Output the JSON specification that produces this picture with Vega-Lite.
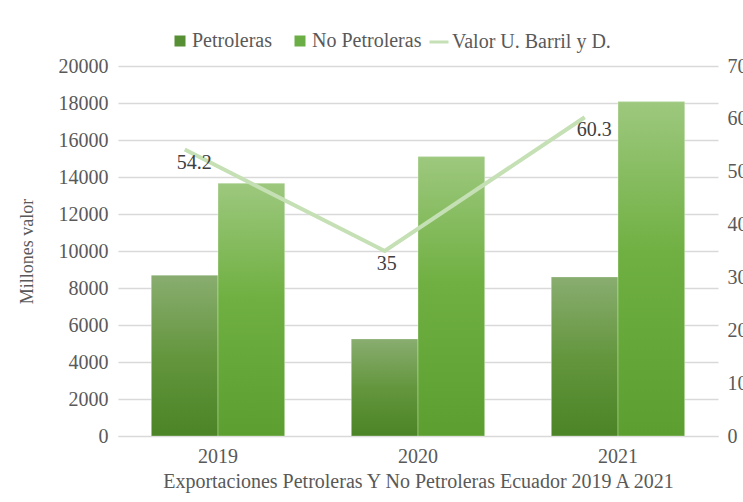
{
  "$schema": "https://vega.github.io/schema/vega-lite/v6.json",
  "width": 600,
  "height": 370,
  "autosize": "none",
  "padding": {"left": 118, "top": 66, "right": 25, "bottom": 66},
  "background": "white",
  "config": {
    "font": "Liberation Serif",
    "view": {"stroke": null},
    "axis": {"labelFont": "Liberation Serif", "titleFont": "Liberation Serif", "labelColor": "#595959", "titleColor": "#595959", "titleFontWeight": "normal"},
    "legend": {"labelFont": "Liberation Serif, serif"},
    "text": {"font": "Liberation Serif, serif"}
  },
  "datasets": {
    "bars": [
      {"anio": "2019", "tipo": "Petroleras", "valor": 8680},
      {"anio": "2019", "tipo": "No Petroleras", "valor": 13650},
      {"anio": "2020", "tipo": "Petroleras", "valor": 5250},
      {"anio": "2020", "tipo": "No Petroleras", "valor": 15100},
      {"anio": "2021", "tipo": "Petroleras", "valor": 8600},
      {"anio": "2021", "tipo": "No Petroleras", "valor": 18070}
    ],
    "precio": [
      {"anio": "2019", "precio": 54.2},
      {"anio": "2020", "precio": 35},
      {"anio": "2021", "precio": 60.3}
    ]
  },
  "encoding": {
    "x": {
      "field": "anio", "type": "nominal",
      "scale": {"paddingInner": 0.335, "paddingOuter": 0.1675},
      "axis": {
        "labelAngle": 0, "labelFontSize": 20, "labelPadding": 10, "ticks": false,
        "domainColor": "#d9d9d9", "domainWidth": 1,
        "title": "Exportaciones Petroleras Y No Petroleras Ecuador 2019 A 2021",
        "titleFontSize": 20, "titlePadding": 5
      }
    }
  },
  "layer": [
    {
      "data": {"name": "bars"},
      "encoding": {
        "xOffset": {"field": "tipo", "type": "nominal", "scale": {"domain": ["Petroleras", "No Petroleras"]}},
        "y": {
          "field": "valor", "type": "quantitative",
          "scale": {"domain": [0, 20000]},
          "axis": {
            "values": [0, 2000, 4000, 6000, 8000, 10000, 12000, 14000, 16000, 18000, 20000],
            "format": "d", "labelFontSize": 20, "labelPadding": 10, "ticks": false, "domain": false,
            "gridColor": "#d9d9d9", "gridWidth": 1.3,
            "title": "Millones valor", "titleFontSize": 18, "titlePadding": 22
          }
        }
      },
      "layer": [
        {
          "mark": {"type": "bar"},
          "encoding": {
            "color": {
              "field": "tipo", "type": "nominal",
              "scale": {"domain": ["Petroleras", "No Petroleras"], "range": ["#578f35", "#6aae45"]},
              "legend": {
                "orient": "none", "legendX": 52, "legendY": -35, "direction": "horizontal",
                "title": null, "symbolType": "square", "symbolSize": 121, "symbolStrokeWidth": 0,
                "labelFont": "Liberation Serif, serif", "labelFontSize": 20, "labelColor": "#595959", "labelOffset": 2, "columnPadding": 18
              }
            }
          }
        },
        {
          "transform": [{"filter": "datum.tipo === 'Petroleras'"}],
          "mark": {"type": "bar", "stroke": "#ffffff", "strokeOpacity": 0.3, "strokeWidth": 1,
            "fill": {"gradient": "linear", "x1": 0, "y1": 0, "x2": 0, "y2": 1, "stops": [
              {"offset": 0, "color": "#89ad70"},
              {"offset": 0.5, "color": "#64963e"},
              {"offset": 1, "color": "#4b8426"}
            ]}}
        },
        {
          "transform": [{"filter": "datum.tipo === 'No Petroleras'"}],
          "mark": {"type": "bar", "stroke": "#ffffff", "strokeOpacity": 0.3, "strokeWidth": 1,
            "fill": {"gradient": "linear", "x1": 0, "y1": 0, "x2": 0, "y2": 1, "stops": [
              {"offset": 0, "color": "#9dc87e"},
              {"offset": 0.45, "color": "#70b042"},
              {"offset": 1, "color": "#5c9e30"}
            ]}}
        }
      ]
    },
    {
      "data": {"name": "precio"},
      "encoding": {
        "xOffset": {"datum": "Petroleras"},
        "y": {
          "field": "precio", "type": "quantitative",
          "scale": {"domain": [0, 70]},
          "axis": {
            "orient": "right", "values": [0, 10, 20, 30, 40, 50, 60, 70],
            "labelFontSize": 20, "labelPadding": 9, "ticks": false, "domain": false, "grid": false, "title": null
          }
        }
      },
      "layer": [
        {
          "mark": {"type": "line", "strokeWidth": 4, "strokeCap": "butt"},
          "encoding": {
            "stroke": {
              "datum": "Valor U. Barril y D.",
              "scale": {"range": ["#c5e0b4"]},
              "legend": {
                "orient": "none", "legendX": 310, "legendY": -35, "direction": "horizontal",
                "title": null, "symbolType": "stroke", "symbolSize": 361, "symbolStrokeWidth": 3,
                "labelFont": "Liberation Serif, serif", "labelFontSize": 20, "labelColor": "#595959", "labelOffset": 2
              }
            }
          }
        },
        {
          "mark": {"type": "text", "align": "left", "baseline": "middle", "dx": -8, "dy": 13, "fontSize": 20, "font": "Liberation Serif, serif", "color": "#404040"},
          "encoding": {
            "text": {"field": "precio", "type": "quantitative"}
          }
        }
      ]
    }
  ],
  "resolve": {"scale": {"y": "independent"}}
}
